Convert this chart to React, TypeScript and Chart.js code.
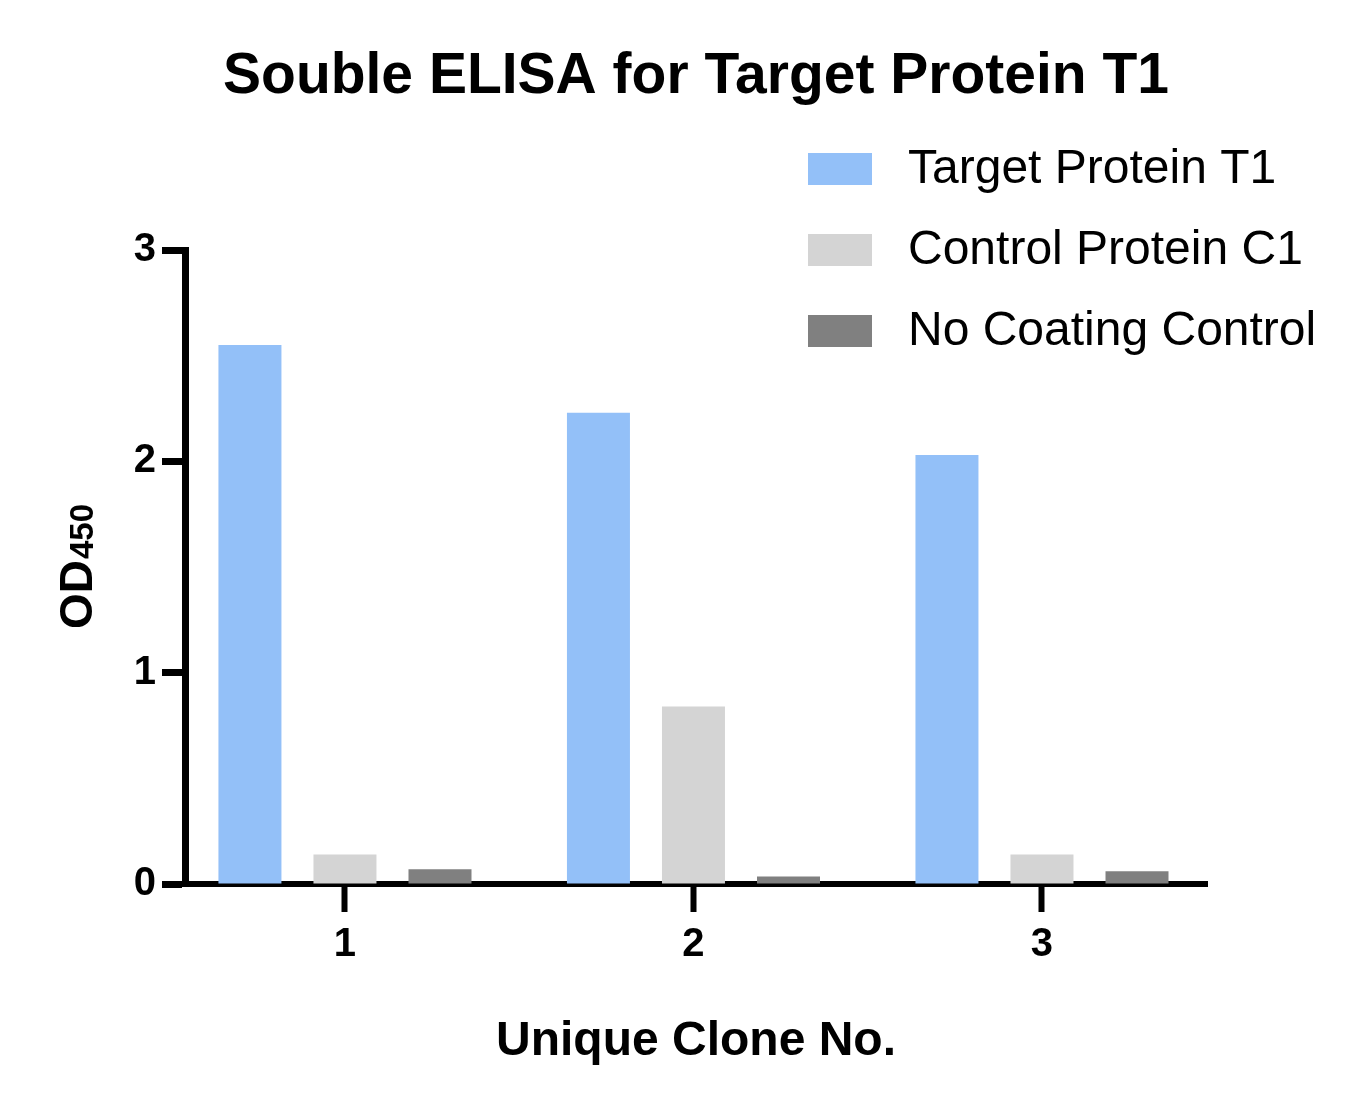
import React, { useEffect, useRef } from "react";
import { Chart, registerables } from "chart.js";

Chart.register(...registerables);

const clones = [1, 2, 3];
const seriesNames = ["Target Protein T1", "Control Protein C1", "No Coating Control"];
const targetT1 = [2.55, 2.23, 2.03];
const controlC1 = [0.14, 0.84, 0.14];
const noCoating = [0.07, 0.035, 0.06];
const seriesColors = ["#93c0f8", "#d4d4d4", "#808080"];
const yTicks = [0, 1, 2, 3];

const FONT = "'Liberation Sans', Arial, Helvetica, sans-serif";

// legend + rotated OD450 title (needs a subscript, so drawn by hand)
const extrasPlugin = {
  id: "extras",
  afterDraw(chart: any) {
    const ctx = chart.ctx;
    const area = chart.chartArea;
    ctx.save();

    // legend
    chart.data.datasets.forEach((ds: any, i: number) => {
      const top = 145 + i * 81;
      ctx.fillStyle = ds.backgroundColor;
      ctx.fillRect(800, top, 64, 32);
      ctx.fillStyle = "#000";
      ctx.font = `48px ${FONT}`;
      ctx.textAlign = "left";
      ctx.textBaseline = "middle";
      ctx.fillText(ds.label, 900, top + 17);
    });

    // y title
    const cy = (area.top + area.bottom) / 2;
    ctx.translate(84, cy);
    ctx.rotate(-Math.PI / 2);
    ctx.textBaseline = "alphabetic";
    ctx.textAlign = "left";
    ctx.font = `bold 46px ${FONT}`;
    const w1 = ctx.measureText("OD").width;
    ctx.font = `bold 33px ${FONT}`;
    const w2 = ctx.measureText("450").width;
    const start = -(w1 + w2) / 2;
    ctx.font = `bold 46px ${FONT}`;
    ctx.fillText("OD", start, 0);
    ctx.font = `bold 33px ${FONT}`;
    ctx.fillText("450", start + w1 + 1, 1);
    ctx.restore();
  },
};

export default function App() {
  const chartRef = useRef<HTMLCanvasElement>(null);

  useEffect(() => {
    const series = [targetT1, controlC1, noCoating];
    const chart = new Chart(chartRef.current as HTMLCanvasElement, {
      type: "bar",
      data: {
        datasets: series.map((vals, i) => ({
          label: seriesNames[i],
          data: clones.map((c, j) => ({ x: c, y: vals[j] })),
          backgroundColor: seriesColors[i],
          borderWidth: 0,
          categoryPercentage: 0.818,
          barPercentage: 0.663,
        })),
      },
      options: {
        animation: false,
        responsive: false,
        layout: { padding: { top: 0, right: 150, left: 0, bottom: 0 } },
        plugins: {
          legend: { display: false },
          tooltip: { enabled: false },
          title: {
            display: true,
            fullSize: false,
            text: "Souble ELISA for Target Protein T1",
            color: "#000",
            font: { family: FONT, size: 57, weight: "bold" },
            padding: { top: 35, bottom: 138.6 },
          },
        },
        scales: {
          x: {
            type: "linear",
            min: 0.541,
            max: 3.4735,
            offset: false,
            z: 1,
            afterBuildTicks: (scale: any) => {
              scale.ticks = clones.map((v) => ({ value: v }));
            },
            afterFit: (scale: any) => {
              scale.height = 222;
            },
            ticks: {
              color: "#000",
              padding: 9,
              font: { family: FONT, size: 40, weight: "bold" },
              callback: (v: any) => String(v),
            },
            grid: {
              offset: false,
              drawOnChartArea: false,
              drawTicks: true,
              tickLength: 28,
              tickWidth: 6,
              tickColor: "#000",
            },
            border: { display: true, color: "#000", width: 6 },
            title: {
              display: true,
              text: "Unique Clone No.",
              color: "#000",
              font: { family: FONT, size: 48, weight: "bold" },
              padding: { top: 0, bottom: 35 },
            },
          },
          y: {
            min: 0,
            max: 3,
            z: 1,
            afterBuildTicks: (scale: any) => {
              scale.ticks = yTicks.map((v) => ({ value: v }));
            },
            afterFit: (scale: any) => {
              scale.width = 177;
            },
            ticks: {
              color: "#000",
              padding: 6,
              font: { family: FONT, size: 40, weight: "bold" },
            },
            grid: {
              drawOnChartArea: false,
              drawTicks: true,
              tickLength: 23,
              tickWidth: 7,
              tickColor: "#000",
            },
            border: { display: true, color: "#000", width: 7 },
          },
        },
      },
      plugins: [extrasPlugin],
    });

    return () => {
      chart.destroy();
    };
  }, []);

  return (
    <div style={{ width: 1349, height: 1098 }}>
      <canvas ref={chartRef} width={1349} height={1098}></canvas>
    </div>
  );
}
